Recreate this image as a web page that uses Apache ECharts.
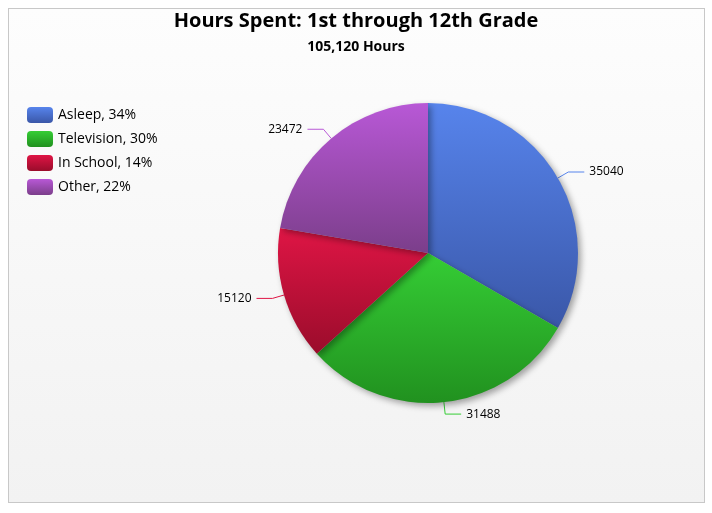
<!DOCTYPE html>
<html>
<head>
<meta charset="utf-8">
<script src="https://cdn.jsdelivr.net/npm/echarts@6/dist/echarts.min.js"></script>
<style>
html, body { margin: 0; padding: 0; background: #fff; }
#frame { position: absolute; left: 8px; top: 8px; width: 695px; height: 493px;
  border: 1px solid #c8c8c8; background: linear-gradient(#fdfdfd, #f2f2f2); }
#chart { position: absolute; left: 0; top: 0; width: 712px; height: 513px; }
</style>
</head>
<body>
<div id="frame"></div>
<div id="chart"></div>
<script>
// data
var categories = ['Asleep', 'Television', 'In School', 'Other'];
var hours = [35040, 31488, 15120, 23472];
var pctLabels = ['34%', '30%', '14%', '22%'];
var titleText = 'Hours Spent: 1st through 12th Grade';
var subText = '105,120 Hours';

var colorPairs = [
    ['#5784ec', '#3a57a8'],
    ['#35cd35', '#21911f'],
    ['#df1545', '#9a0c2b'],
    ['#b858d6', '#7b3e8a']
];
var FONT = 'Open Sans';

function grad(p) {
    return new echarts.graphic.LinearGradient(0, 0, 0, 1, [
        { offset: 0, color: p[0] }, { offset: 1, color: p[1] }
    ]);
}

var pieData = categories.map(function (c, i) {
    return {
        name: c,
        value: hours[i],
        itemStyle: { color: grad(colorPairs[i]) },
        labelLine: { lineStyle: { color: colorPairs[i][0] } }
    };
});

var chartDom = document.getElementById('chart');
var myChart = echarts.init(chartDom);// 初始化echarts实例

var option = {
    animation: false,
    backgroundColor: 'transparent',
    title: {
        text: titleText,
        subtext: subText,
        left: 'center',
        top: 6,
        itemGap: 9,
        textStyle: { fontFamily: FONT, fontSize: 20, fontWeight: 'bold', color: '#000' },
        subtextStyle: { fontFamily: FONT, fontSize: 14, fontWeight: 'bold', color: '#000' }
    },
    legend: {
        orient: 'vertical',
        left: 22,
        top: 102,
        itemWidth: 26,
        itemHeight: 16,
        itemGap: 8,
        icon: 'roundRect',
        textStyle: { fontFamily: FONT, fontSize: 14, color: '#000' },
        formatter: function (name) {
            return name + ', ' + pctLabels[categories.indexOf(name)];
        }
    },
    series: [{
        type: 'pie',
        center: [428, 253],
        radius: 150,
        startAngle: 90,
        clockwise: true,
        data: pieData,
        itemStyle: {
            borderWidth: 0,
            shadowBlur: 6,
            shadowOffsetX: 3,
            shadowOffsetY: 3,
            shadowColor: 'rgba(0,0,0,0.35)'
        },
        label: {
            show: true,
            formatter: '{c}',
            fontFamily: FONT,
            fontSize: 12,
            color: '#000'
        },
        labelLine: { show: true, length: 12, length2: 16, lineStyle: { width: 1 } },
        emphasis: { disabled: true }
    }]
};
myChart.setOption(option);

window.onresize = function () {
    myChart.resize();
};
</script>
</body>
</html>
